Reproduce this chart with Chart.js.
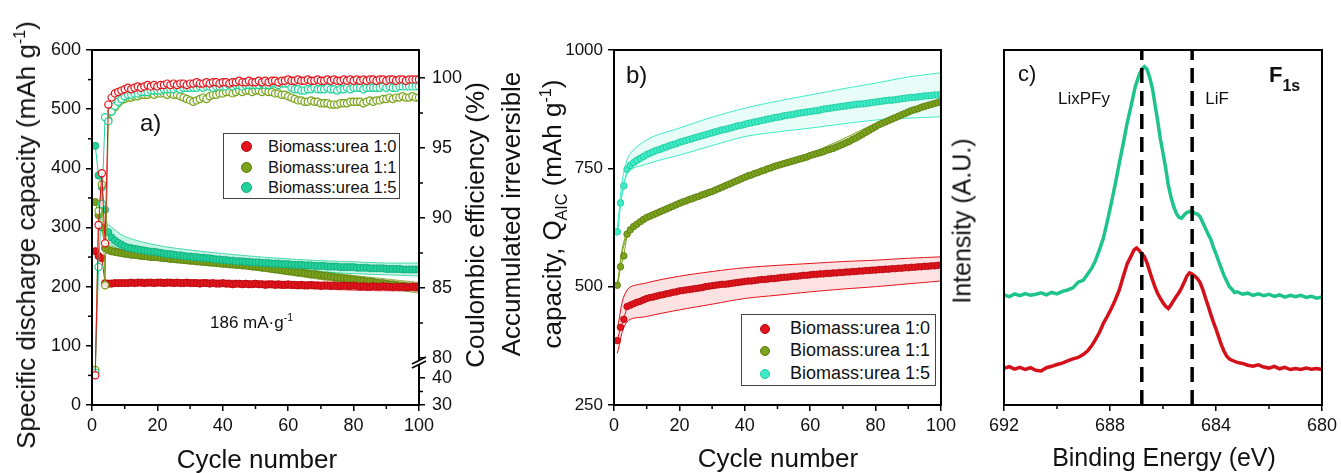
<!DOCTYPE html>
<html lang="en">
<head>
<meta charset="UTF-8">
<title>Biomass:urea cycling, QAIC and F1s</title>
<script src="https://cdn.jsdelivr.net/npm/chart.js"></script>
<style>
  body { margin: 0; background: #fff; font-family: 'Liberation Sans', Arial, sans-serif; color: #111; }
  #page { position: relative; width: 1341px; height: 473px; overflow: hidden; }
  canvas { position: absolute; top: 0; }
  .lbl { position: absolute; white-space: nowrap; pointer-events: none; line-height: 1; }
  .c { transform: translate(-50%, -50%); }
  .rot { transform: translate(-50%, -50%) rotate(-90deg); text-align: center; }
  .title { font-size: 26px; }
  sup, sub { font-size: 62%; line-height: 0; }
  .legend { position: absolute; border: 1px solid #444; background: #fff; }
  .legend div { position: absolute; white-space: nowrap; line-height: 1; }
  .dot { position: absolute; border-radius: 50%; }
</style>
</head>
<body>
<div id="page">
  <canvas id="cA" width="462" height="473" style="left:0px"></canvas>
  <canvas id="cB" width="490" height="473" style="left:470px"></canvas>
  <canvas id="cC" width="366" height="473" style="left:975px"></canvas>

  <!-- panel a texts -->
  <div class="lbl rot title" style="left:26px; top:235px;">Specific discharge capacity (mAh g<sup>-1</sup>)</div>
  <div class="lbl rot title" style="left:475px; top:225px;">Coulombic efficiency (%)</div>
  <div class="lbl c title" style="left:257px; top:459px;">Cycle number</div>
  <div class="lbl" style="left:140px; top:111px; font-size:24px;">a)</div>
  <div class="lbl" style="left:210px; top:314px; font-size:17px;">186 mA·g<sup>-1</sup></div>
  <div class="legend" style="left:223px; top:133px; width:175px; height:64px;">
    <span class="dot" style="left:17px; top:7px; width:9px; height:9px; background:#e3141c; border:1px solid #b00a10;"></span>
    <div style="left:44px; top:4px; font-size:16.5px;">Biomass:urea 1:0</div>
    <span class="dot" style="left:17px; top:28px; width:9px; height:9px; background:#7ba31c; border:1px solid #5a7a10;"></span>
    <div style="left:44px; top:25px; font-size:16.5px;">Biomass:urea 1:1</div>
    <span class="dot" style="left:17px; top:48px; width:9px; height:9px; background:#22d29a; border:1px solid #12a878;"></span>
    <div style="left:44px; top:45px; font-size:16.5px;">Biomass:urea 1:5</div>
  </div>

  <!-- panel b texts -->
  <div class="lbl rot title" style="left:532px; top:214px; line-height:41px;">Accumulated irreversible<br>capacity, Q<sub>AIC</sub> (mAh g<sup>-1</sup>)</div>
  <div class="lbl c title" style="left:778px; top:458px;">Cycle number</div>
  <div class="lbl" style="left:626px; top:63px; font-size:24px;">b)</div>
  <div class="legend" style="left:741px; top:314px; width:193px; height:70px;">
    <span class="dot" style="left:18px; top:9px; width:8px; height:8px; background:#e3141c; border:1px solid #b00a10;"></span>
    <div style="left:48px; top:4px; font-size:18px;">Biomass:urea 1:0</div>
    <span class="dot" style="left:18px; top:31px; width:8px; height:8px; background:#7ba31c; border:1px solid #5a7a10;"></span>
    <div style="left:48px; top:26px; font-size:18px;">Biomass:urea 1:1</div>
    <span class="dot" style="left:18px; top:54px; width:8px; height:8px; background:#3eecc6; border:1px solid #20c8a0;"></span>
    <div style="left:48px; top:49px; font-size:18px;">Biomass:urea 1:5</div>
  </div>

  <!-- panel c texts -->
  <div class="lbl rot" style="left:962px; top:221px; font-size:25px;">Intensity (A.U.)</div>
  <div class="lbl c" style="left:1164px; top:457px; font-size:25px;">Binding Energy (eV)</div>
  <div class="lbl" style="left:1018px; top:63px; font-size:22px;">c)</div>
  <div class="lbl c" style="left:1084px; top:98px; font-size:17px;">LixPFy</div>
  <div class="lbl c" style="left:1217px; top:98px; font-size:17px;">LiF</div>
  <div class="lbl" style="left:1269px; top:64px; font-size:22px; font-weight:bold;">F<sub style="font-size:16px; position:relative; top:4px;">1s</sub></div>
</div>

<script>
// ---------- panel a: specific discharge capacity (mAh/g) and coulombic efficiency (%) ----------
const cycles = Array.from({ length: 100 }, (_, i) => i + 1);

const capRed = [260, 252, 248, 206, 205, 205, 206, 206, 206, 206,
  206, 207, 206, 207, 207, 206, 207, 207, 206, 207,
  207, 206, 207, 207, 206, 207, 206, 206, 207, 206,
  206, 206, 205, 206, 206, 205, 206, 205, 205, 206,
  205, 205, 204, 205, 205, 204, 205, 204, 204, 205,
  204, 204, 203, 204, 204, 203, 204, 203, 203, 204,
  203, 203, 202, 203, 202, 202, 203, 202, 202, 201,
  202, 202, 201, 202, 201, 201, 202, 201, 201, 202,
  201, 200, 201, 200, 200, 201, 200, 200, 201, 200,
  200, 199, 200, 199, 200, 199, 199, 200, 199, 200];
const capGreen = [343, 321, 300, 265, 262, 260, 259, 258, 257, 256,
  255, 254, 254, 253, 252, 252, 251, 250, 250, 250,
  249, 248, 248, 247, 247, 246, 246, 245, 245, 244,
  244, 243, 243, 242, 242, 241, 241, 240, 240, 239,
  239, 238, 238, 237, 237, 236, 236, 235, 234, 234,
  233, 232, 232, 231, 230, 229, 229, 228, 227, 226,
  226, 225, 224, 224, 223, 222, 221, 221, 220, 219,
  218, 218, 217, 216, 215, 215, 214, 213, 213, 212,
  211, 211, 210, 209, 209, 208, 207, 206, 206, 205,
  204, 204, 203, 202, 202, 201, 200, 200, 199, 198];
const capCyan = [438, 388, 368, 330, 292, 283, 278, 274, 271, 268,
  266, 265, 264, 263, 262, 261, 260, 259, 259, 258,
  257, 256, 255, 255, 254, 253, 253, 252, 251, 251,
  250, 250, 249, 249, 248, 248, 247, 246, 246, 245,
  245, 244, 244, 243, 243, 243, 242, 242, 241, 241,
  241, 240, 240, 240, 239, 239, 239, 238, 238, 238,
  237, 237, 237, 237, 236, 236, 236, 235, 235, 235,
  235, 234, 234, 234, 234, 233, 233, 233, 233, 233,
  232, 232, 232, 232, 231, 231, 231, 231, 231, 230,
  230, 230, 230, 230, 229, 229, 229, 229, 229, 229];

const capBandX = [5, 10, 20, 30, 40, 50, 60, 70, 80, 90, 100];
const capCyanUp = [305, 285, 270, 262, 256, 251, 247, 244, 242, 240, 240];
const capCyanLo = [275, 256, 248, 242, 236, 232, 228, 225, 222, 220, 218];
const capGreenUp = [270, 262, 256, 250, 245, 240, 233, 226, 219, 213, 207];
const capGreenLo = [255, 250, 244, 238, 233, 228, 220, 212, 205, 197, 189];
const capRedUp = [211, 211, 212, 212, 211, 210, 209, 208, 207, 206, 206];
const capRedLo = [200, 201, 201, 201, 200, 199, 197, 196, 194, 193, 193];

const ceRed = [41, 89.5, 93.2, 88.2, 98.1, 98.6, 98.9, 99.0, 99.1, 99.2,
  99.3, 99.2, 99.3, 99.4, 99.3, 99.4, 99.5, 99.4, 99.5, 99.4,
  99.5, 99.5, 99.6, 99.5, 99.6, 99.5, 99.6, 99.6, 99.5, 99.6,
  99.6, 99.7, 99.6, 99.6, 99.7, 99.6, 99.7, 99.7, 99.6, 99.7,
  99.7, 99.6, 99.7, 99.7, 99.8, 99.7, 99.7, 99.8, 99.7, 99.7,
  99.8, 99.7, 99.8, 99.7, 99.8, 99.8, 99.7, 99.8, 99.8, 99.9,
  99.8, 99.8, 99.9, 99.8, 99.8, 99.9, 99.8, 99.8, 99.9, 99.8,
  99.8, 99.9, 99.8, 99.9, 99.8, 99.8, 99.9, 99.8, 99.9, 99.8,
  99.9, 99.8, 99.9, 99.8, 99.9, 99.9, 99.8, 99.9, 99.9, 99.8,
  99.9, 99.9, 99.8, 99.9, 99.9, 99.8, 99.9, 99.9, 99.9, 99.9];
const ceGreen = [43, 90.5, 92.4, 85.2, 97.0, 97.6, 97.9, 98.2, 98.4, 98.5,
  98.6, 98.6, 98.7, 98.7, 98.8, 98.8, 98.8, 98.9, 98.8, 98.9,
  98.9, 98.9, 98.8, 98.9, 98.8, 98.8, 98.7, 98.6, 98.5, 98.4,
  98.3, 98.4, 98.5, 98.6, 98.5, 98.7, 98.8, 98.8, 98.9, 98.9,
  99.0, 99.0, 98.9, 99.0, 99.1, 99.0, 99.1, 99.1, 99.0, 99.1,
  99.1, 99.0, 99.1, 99.0, 99.0, 98.9, 98.9, 98.8, 98.8, 98.7,
  98.6, 98.5, 98.4, 98.4, 98.3, 98.3, 98.4, 98.3, 98.3, 98.2,
  98.2, 98.2, 98.1, 98.1, 98.1, 98.2, 98.2, 98.2, 98.3, 98.3,
  98.3, 98.3, 98.2, 98.3, 98.4, 98.3, 98.4, 98.4, 98.5, 98.5,
  98.6, 98.5, 98.6, 98.6, 98.7, 98.6, 98.6, 98.7, 98.6, 98.6];
const ceCyan = [42, 86.5, 91.0, 97.2, 96.9, 97.6, 98.0, 98.3, 98.5, 98.7,
  98.8, 98.8, 98.9, 98.9, 99.0, 99.0, 99.0, 99.1, 99.1, 99.1,
  99.1, 99.2, 99.2, 99.2, 99.2, 99.3, 99.2, 99.3, 99.3, 99.3,
  99.3, 99.3, 99.4, 99.3, 99.4, 99.4, 99.3, 99.4, 99.4, 99.4,
  99.4, 99.5, 99.4, 99.5, 99.5, 99.4, 99.5, 99.5, 99.5, 99.5,
  99.5, 99.6, 99.5, 99.5, 99.6, 99.6, 99.5, 99.6, 99.6, 99.6,
  99.3, 99.2, 99.2, 99.1, 99.1, 99.2, 99.2, 99.3, 99.2, 99.2,
  99.2, 99.3, 99.2, 99.2, 99.1, 99.2, 99.2, 99.3, 99.2, 99.3,
  99.3, 99.3, 99.2, 99.3, 99.3, 99.3, 99.3, 99.3, 99.4, 99.3,
  99.4, 99.3, 99.3, 99.4, 99.4, 99.4, 99.4, 99.4, 99.4, 99.4];

// right axis of panel a is broken between 47.4 and 80 %
const ceTicks = [30, 40, 80, 85, 90, 95, 100];

// ---------- panel b: accumulated irreversible capacity (mAh/g) ----------
const aicRed = [386, 414, 431, 458, 461, 464, 467, 469, 472, 475,
  477, 478, 480, 482, 483, 485, 486, 488, 489, 491,
  492, 493, 494, 495, 496, 497, 498, 500, 501, 502,
  503, 504, 505, 505, 506, 507, 508, 509, 510, 511,
  512, 512, 513, 514, 515, 515, 516, 517, 517, 518,
  519, 520, 520, 521, 522, 522, 523, 524, 524, 525,
  526, 526, 527, 527, 528, 528, 529, 529, 530, 530,
  531, 531, 532, 532, 533, 533, 534, 534, 535, 535,
  536, 536, 537, 537, 538, 538, 539, 539, 540, 540,
  541, 541, 542, 542, 543, 543, 544, 544, 545, 546];
const aicGreen = [503, 542, 565, 611, 620, 627, 632, 637, 642, 646,
  649, 652, 655, 658, 661, 664, 667, 670, 673, 676,
  679, 681, 684, 686, 689, 691, 694, 696, 699, 701,
  704, 707, 710, 713, 716, 719, 722, 725, 728, 731,
  734, 736, 739, 741, 744, 746, 749, 751, 754, 756,
  758, 760, 762, 764, 766, 768, 770, 772, 774, 777,
  779, 781, 783, 785, 788, 790, 792, 795, 798, 801,
  804, 807, 811, 814, 818, 822, 826, 830, 834, 838,
  842, 845, 848, 851, 854, 857, 860, 863, 866, 869,
  872, 874, 876, 879, 881, 883, 885, 887, 889, 891];
const aicCyan = [616, 677, 713, 748, 756, 762, 767, 771, 775, 779,
  782, 785, 788, 790, 793, 795, 798, 800, 802, 805,
  807, 809, 811, 813, 815, 817, 819, 821, 823, 825,
  827, 829, 831, 832, 834, 836, 838, 840, 841, 843,
  845, 846, 848, 849, 851, 852, 854, 855, 857, 858,
  859, 861, 862, 863, 864, 866, 867, 868, 869, 870,
  871, 872, 873, 875, 876, 877, 878, 879, 880, 881,
  882, 883, 884, 885, 886, 886, 887, 888, 889, 890,
  891, 892, 893, 894, 894, 895, 896, 897, 898, 899,
  900, 900, 901, 902, 903, 903, 904, 905, 905, 906];

const aicBandX = [1, 4, 10, 20, 30, 40, 50, 60, 70, 80, 90, 100];
const aicRedUp = [412, 493, 508, 522, 532, 540, 545, 549, 553, 556, 560, 563];
const aicRedLo = [359, 426, 437, 451, 463, 475, 482, 489, 495, 500, 506, 512];
const aicGreenUp = [506, 615, 650, 680, 705, 735, 760, 782, 812, 845, 872, 893];
const aicGreenLo = [500, 607, 643, 673, 697, 728, 752, 774, 795, 838, 866, 889];
const aicCyanUp = [625, 768, 810, 835, 858, 877, 892, 905, 918, 930, 943, 952];
const aicCyanLo = [608, 739, 759, 778, 798, 817, 827, 835, 844, 852, 856, 859];

// ---------- panel c: F1s XPS spectra (arbitrary units) ----------
const greenE = [692.0, 691.8, 691.6, 691.4, 691.2, 691.0, 690.8, 690.6, 690.4, 690.2, 690.0, 689.8, 689.6, 689.4,
  689.2, 689.0, 688.85, 688.7, 688.55, 688.4, 688.25, 688.1, 687.95, 687.8, 687.65, 687.5, 687.35, 687.2,
  687.05, 686.9, 686.8, 686.7, 686.6, 686.5, 686.4, 686.3, 686.2, 686.1, 686.0, 685.9, 685.8, 685.7, 685.6,
  685.5, 685.4, 685.3, 685.2, 685.1, 685.0, 684.9, 684.8, 684.7, 684.6, 684.5, 684.4, 684.3, 684.2, 684.1,
  684.0, 683.9, 683.8, 683.7, 683.6, 683.5, 683.4, 683.3, 683.2, 683.0, 682.8, 682.6, 682.4, 682.2, 682.0,
  681.8, 681.6, 681.4, 681.2, 681.0, 680.8, 680.6, 680.4, 680.2, 680.0];
const greenI = [31.0, 30.5, 31.3, 30.8, 31.4, 30.9, 31.2, 31.6, 31.0, 31.7, 31.3, 32.0, 32.4, 33.0,
  34.6, 35.2, 36.8, 38.4, 40.6, 43.7, 47.0, 51.8, 56.9, 62.3, 68.1, 73.6, 79.5, 84.4,
  89.6, 93.0, 94.6, 95.3, 94.5, 92.2, 89.2, 84.6, 80.0, 75.0, 71.0, 66.8, 62.0, 58.6, 56.0,
  54.0, 52.9, 52.6, 53.5, 54.2, 54.5, 54.6, 54.0, 53.8, 53.0, 51.4, 49.8, 48.2, 46.7, 44.5,
  42.6, 40.5, 38.5, 36.5, 35.0, 33.4, 32.6, 31.7, 31.9, 31.2, 31.5, 30.9, 31.3, 30.8, 31.2,
  30.6, 31.0, 30.4, 30.9, 30.5, 30.9, 30.3, 30.6, 30.1, 30.4];
const redE = [692.0, 691.8, 691.6, 691.4, 691.2, 691.0, 690.8, 690.6, 690.4, 690.2, 690.0, 689.8, 689.6, 689.4,
  689.2, 689.0, 688.85, 688.7, 688.55, 688.4, 688.25, 688.1, 687.95, 687.8, 687.65, 687.5, 687.35, 687.2,
  687.1, 687.0, 686.9, 686.8, 686.7, 686.6, 686.5, 686.4, 686.3, 686.2, 686.1, 686.0, 685.9, 685.8, 685.7,
  685.6, 685.5, 685.4, 685.3, 685.2, 685.1, 685.0, 684.9, 684.8, 684.7, 684.6, 684.5, 684.4, 684.3, 684.2,
  684.1, 684.0, 683.9, 683.8, 683.7, 683.6, 683.5, 683.4, 683.2, 683.0, 682.8, 682.6, 682.4, 682.2, 682.0,
  681.8, 681.6, 681.4, 681.2, 681.0, 680.8, 680.6, 680.4, 680.2, 680.0];
const redI = [10.3, 10.8, 10.1, 10.6, 10.0, 10.5, 9.8, 9.6, 10.5, 10.9, 11.4, 11.8, 12.4, 13.0,
  13.4, 14.3, 15.2, 16.6, 18.4, 20.4, 23.0, 25.0, 27.2, 29.6, 32.4, 36.2, 39.8, 42.0,
  43.6, 44.2, 43.6, 42.6, 41.8, 40.0, 37.6, 35.3, 33.2, 31.4, 30.0, 28.8, 27.8, 27.2, 28.2,
  29.4, 30.6, 31.6, 33.0, 34.6, 36.3, 37.2, 36.9, 36.3, 35.6, 34.5, 32.6, 30.2, 28.0, 25.6,
  23.4, 21.4, 19.2, 17.0, 15.2, 13.8, 13.0, 12.6, 12.0, 11.7, 11.2, 10.9, 11.3, 10.7, 10.4,
  10.9, 10.2, 10.6, 10.0, 10.3, 10.0, 10.4, 10.1, 10.3, 10.0];
const peakLines = [686.8, 684.9];

// ---------- colours ----------
const RED = '#e3141c', RED_D = '#b00a10';
const GRN = '#7ba31c', GRN_D = '#5a7a10';
const CYN = '#22d29a', CYN_D = '#12a878';
const CYN_B = '#3eecc6', CYN_BD = '#1fc8a0';
const XPS_G = '#1fc48a', XPS_R = '#d4101a';

Chart.defaults.font.family = "'Liberation Sans', Arial, sans-serif";
Chart.defaults.color = '#111';

const pts = (xs, ys) => xs.map((x, i) => ({ x: x, y: ys[i] }));

// linear scale with a gap, for the coulombic efficiency axis
const BRK = { lo: 30, loTop: 47.4, hi: 80, top: 102, frac: 47 / 355 };
class BrokenScale extends Chart.LinearScale {
  getPixelForValue(v) {
    let d;
    if (v <= BRK.loTop) d = (v - BRK.lo) / (BRK.loTop - BRK.lo) * BRK.frac;
    else d = BRK.frac + (v - BRK.hi) / (BRK.top - BRK.hi) * (1 - BRK.frac);
    return this.getPixelForDecimal(d);
  }
}
BrokenScale.id = 'broken';
BrokenScale.defaults = Chart.LinearScale.defaults;
Chart.register(BrokenScale);

// box round the plot area
const frame = {
  id: 'frame',
  afterDraw(chart) {
    const a = chart.chartArea, ctx = chart.ctx;
    ctx.save();
    ctx.strokeStyle = '#000';
    ctx.lineWidth = 2;
    ctx.strokeRect(a.left, a.top, a.right - a.left, a.bottom - a.top);
    ctx.restore();
  }
};

// short unlabelled ticks
const minorTicks = {
  id: 'minorTicks',
  afterDraw(chart, args, opts) {
    const ctx = chart.ctx, a = chart.chartArea;
    ctx.save();
    ctx.strokeStyle = '#000';
    ctx.lineWidth = 1.5;
    (opts.list || []).forEach(m => {
      const s = chart.scales[m.axis];
      m.values.forEach(v => {
        const p = s.getPixelForValue(v);
        ctx.beginPath();
        if (s.isHorizontal()) { ctx.moveTo(p, a.bottom); ctx.lineTo(p, a.bottom + 4); }
        else if (s.position === 'left') { ctx.moveTo(a.left, p); ctx.lineTo(a.left - 4, p); }
        else { ctx.moveTo(a.right, p); ctx.lineTo(a.right + 4, p); }
        ctx.stroke();
      });
    });
    ctx.restore();
  }
};

// "//" mark on the broken right axis
const axisBreak = {
  id: 'axisBreak',
  afterDraw(chart) {
    const s = chart.scales.y2, ctx = chart.ctx, x = chart.chartArea.right;
    const y = s.getPixelForValue(BRK.loTop) + 4;
    ctx.save();
    ctx.fillStyle = '#fff';
    ctx.beginPath();
    ctx.moveTo(x - 7, y + 2); ctx.lineTo(x + 7, y - 5); ctx.lineTo(x + 7, y - 1); ctx.lineTo(x - 7, y + 6);
    ctx.closePath();
    ctx.fill();
    ctx.strokeStyle = '#000';
    ctx.lineWidth = 1.6;
    ctx.beginPath();
    ctx.moveTo(x - 7, y + 2); ctx.lineTo(x + 7, y - 5);
    ctx.moveTo(x - 7, y + 6); ctx.lineTo(x + 7, y - 1);
    ctx.stroke();
    ctx.restore();
  }
};

const tickGrid = { drawOnChartArea: false, drawTicks: true, tickLength: 6, color: '#000', lineWidth: 1.5 };
const plain = v => String(v);

function filled(ys, col, dark, axis, r) {
  return {
    data: pts(cycles, ys), yAxisID: axis, showLine: true, borderColor: col, borderWidth: 1,
    pointRadius: r, pointBackgroundColor: col, pointBorderColor: dark, pointBorderWidth: 0.8
  };
}
function hollow(ys, col) {
  return {
    data: pts(cycles, ys), yAxisID: 'y2', showLine: true, borderColor: col, borderWidth: 1,
    pointRadius: 3.6, pointBackgroundColor: 'rgba(255,255,255,0.85)', pointBorderColor: col, pointBorderWidth: 1.2
  };
}
function band(xs, ys, col, fillCol, axis, target) {
  return {
    data: pts(xs, ys), yAxisID: axis, showLine: true, borderColor: col, borderWidth: 1,
    pointRadius: 0, tension: 0.35, fill: target, backgroundColor: fillCol
  };
}

// ---------- panel a ----------
new Chart(document.getElementById('cA'), {
  type: 'scatter',
  data: {
    datasets: [
      hollow(ceRed, RED),
      hollow(ceCyan, CYN),
      hollow(ceGreen, GRN),
      filled(capRed, RED, RED_D, 'y', 3.6),
      filled(capCyan, CYN, CYN_D, 'y', 3.6),
      filled(capGreen, GRN, GRN_D, 'y', 3.6),
      band(capBandX, capRedUp, 'rgba(227,20,28,0.7)', 'rgba(227,20,28,0.25)', 'y', '+1'),
      band(capBandX, capRedLo, 'rgba(227,20,28,0.7)', 'transparent', 'y', false),
      band(capBandX, capCyanUp, 'rgba(34,210,154,0.8)', 'rgba(34,210,154,0.25)', 'y', '+1'),
      band(capBandX, capCyanLo, 'rgba(34,210,154,0.8)', 'transparent', 'y', false),
      band(capBandX, capGreenUp, 'rgba(123,163,28,0.8)', 'rgba(190,170,110,0.35)', 'y', '+1'),
      band(capBandX, capGreenLo, 'rgba(123,163,28,0.8)', 'transparent', 'y', false)
    ]
  },
  options: {
    responsive: false,
    animation: false,
    layout: { padding: { top: 50, left: 0, right: 0, bottom: 0 } },
    plugins: {
      legend: { display: false },
      tooltip: { enabled: false },
      minorTicks: { list: [
        { axis: 'x', values: [10, 30, 50, 70, 90] },
        { axis: 'y', values: [50, 150, 250, 350, 450, 550] },
        { axis: 'y2', values: [35, 82.5, 87.5, 92.5, 97.5] }
      ] }
    },
    scales: {
      x: {
        type: 'linear', min: 0, max: 100,
        ticks: { stepSize: 20, font: { size: 18 }, padding: 4, maxRotation: 0, callback: plain },
        grid: tickGrid, border: { display: false },
        afterFit: s => { s.height = 68; }
      },
      y: {
        type: 'linear', position: 'left', min: 0, max: 600,
        ticks: { stepSize: 100, font: { size: 18 }, padding: 5, callback: plain },
        grid: tickGrid, border: { display: false },
        afterFit: s => { s.width = 92; }
      },
      y2: {
        type: 'broken', position: 'right', min: 30, max: 102,
        afterBuildTicks: ax => { ax.ticks = ceTicks.map(v => ({ value: v })); },
        ticks: { font: { size: 18 }, padding: 7, callback: plain },
        grid: tickGrid, border: { display: false },
        afterFit: s => { s.width = 43; }
      }
    }
  },
  plugins: [frame, minorTicks, axisBreak]
});

// ---------- panel b ----------
new Chart(document.getElementById('cB'), {
  type: 'scatter',
  data: {
    datasets: [
      filled(aicRed, RED, RED_D, 'y', 3.3),
      filled(aicGreen, GRN, GRN_D, 'y', 3.3),
      filled(aicCyan, CYN_B, CYN_BD, 'y', 3.3),
      band(aicBandX, aicRedUp, RED, 'rgba(227,20,28,0.12)', 'y', '+1'),
      band(aicBandX, aicRedLo, RED, 'transparent', 'y', false),
      band(aicBandX, aicGreenUp, GRN, 'rgba(123,163,28,0.15)', 'y', '+1'),
      band(aicBandX, aicGreenLo, GRN, 'transparent', 'y', false),
      band(aicBandX, aicCyanUp, CYN_B, 'rgba(62,236,198,0.12)', 'y', '+1'),
      band(aicBandX, aicCyanLo, CYN_B, 'transparent', 'y', false)
    ]
  },
  options: {
    responsive: false,
    animation: false,
    layout: { padding: { top: 50, left: 0, right: 18, bottom: 0 } },
    plugins: {
      legend: { display: false },
      tooltip: { enabled: false },
      minorTicks: { list: [{ axis: 'x', values: [10, 30, 50, 70, 90] }] }
    },
    scales: {
      x: {
        type: 'linear', min: 0, max: 100,
        ticks: { stepSize: 20, font: { size: 18 }, padding: 4, maxRotation: 0, callback: plain },
        grid: tickGrid, border: { display: false },
        afterFit: s => { s.height = 68; }
      },
      y: {
        type: 'linear', position: 'left', min: 250, max: 1000,
        ticks: { stepSize: 250, font: { size: 17 }, padding: 5, callback: plain },
        grid: tickGrid, border: { display: false },
        afterFit: s => { s.width = 144; }
      }
    }
  },
  plugins: [frame, minorTicks]
});

// ---------- panel c ----------
new Chart(document.getElementById('cC'), {
  type: 'scatter',
  data: {
    datasets: [
      { data: pts([peakLines[0], peakLines[0]], [0, 100]), showLine: true, borderColor: '#000', borderWidth: 3.5, borderDash: [15, 8], pointRadius: 0 },
      { data: pts([peakLines[1], peakLines[1]], [0, 100]), showLine: true, borderColor: '#000', borderWidth: 3.5, borderDash: [15, 8], pointRadius: 0 },
      { data: pts(greenE, greenI), showLine: true, borderColor: XPS_G, borderWidth: 3.5, pointRadius: 0 },
      { data: pts(redE, redI), showLine: true, borderColor: XPS_R, borderWidth: 3.5, pointRadius: 0 }
    ]
  },
  options: {
    responsive: false,
    animation: false,
    layout: { padding: { top: 50, left: 0, right: 17, bottom: 0 } },
    plugins: {
      legend: { display: false },
      tooltip: { enabled: false },
      minorTicks: { list: [{ axis: 'x', values: [690, 686, 682] }] }
    },
    scales: {
      x: {
        type: 'linear', min: 680, max: 692, reverse: true,
        ticks: { stepSize: 4, font: { size: 18 }, padding: 4, maxRotation: 0, callback: plain },
        grid: tickGrid, border: { display: false },
        afterFit: s => { s.height = 68; }
      },
      y: {
        type: 'linear', position: 'left', min: 0, max: 100,
        ticks: { display: false }, grid: { display: false }, border: { display: false },
        afterFit: s => { s.width = 29; }
      }
    }
  },
  plugins: [frame, minorTicks]
});
</script>
</body>
</html>
